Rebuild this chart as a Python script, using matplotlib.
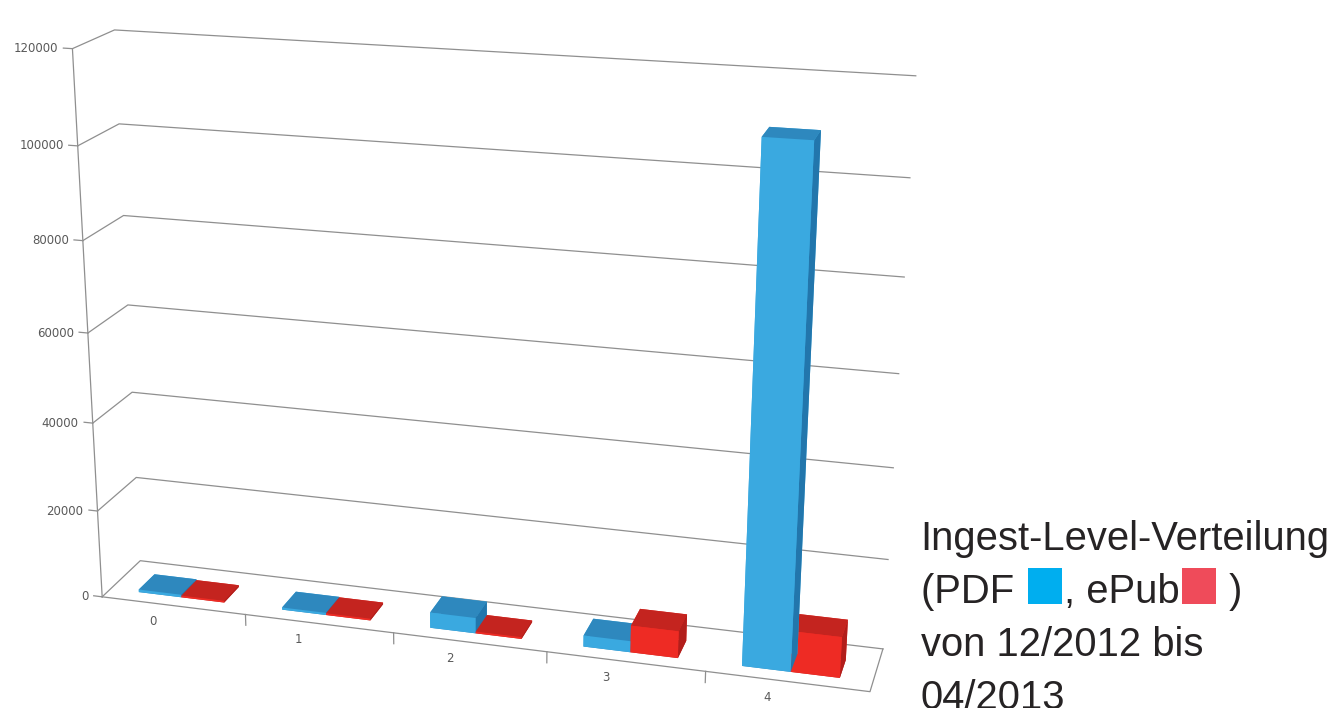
import numpy as np
import matplotlib.pyplot as plt
from matplotlib.patches import Rectangle
from mpl_toolkits.mplot3d import proj3d

categories = ['0', '1', '2', '3', '4']
pdf = [600, 500, 3500, 2500, 110000]
epub = [400, 400, 400, 6000, 9000]
zticks = [0, 20000, 40000, 60000, 80000, 100000, 120000]

grid_c = '#8f8f8f'
lab_c = '#595959'
blue_faces = ['#2E88BE', '#2E88BE', '#3AA9E0', '#3AA9E0', '#3AA9E0', '#2276AC']
red_faces = ['#C4241F', '#C4241F', '#EE2B24', '#EE2B24', '#EE2B24', '#B21E1B']

fig = plt.figure(figsize=(13.36, 7.08), dpi=100)
W, H = fig.get_size_inches() * fig.dpi
side = 900
cx, cy = 471, 343
ax = fig.add_axes([(cx - side / 2) / W, (cy - side / 2) / H, side / W, side / H],
                  projection='3d', computed_zorder=False)
ax.set_proj_type('persp', focal_length=0.5)
ax.view_init(elev=18.5, azim=-74)
ax.set_xlim(-0.5, 4.5)
ax.set_ylim(0, 1)
ax.set_zlim(0, 120000)
ax.set_box_aspect((6.9, 0.85, 5), zoom=1.09)
ax.set_axis_off()

# walls: left and back gridlines
for z in zticks:
    ax.plot([-0.5, -0.5, 4.5], [0, 1, 1], [z, z, z], color=grid_c, lw=0.9, zorder=1)
    ax.plot([-0.56, -0.5], [0, 0], [z, z], color=grid_c, lw=0.9, zorder=1)

# floor outline and vertical axis
ax.plot([-0.5, 4.5, 4.5], [0, 0, 1], [0, 0, 0], color=grid_c, lw=0.9, zorder=1)
ax.plot([-0.5, -0.5], [0, 0], [0, 120000], color=grid_c, lw=0.9, zorder=1)
for i in range(len(categories) - 1):
    ax.plot([i + 0.5, i + 0.5], [0, 0], [0, -2500], color=grid_c, lw=0.9, zorder=1)

# bars
n = len(categories)
xs = np.concatenate([np.arange(n) - 0.3, np.arange(n)])
ys = np.full(2 * n, 0.22)
zs = np.zeros(2 * n)
dz = np.array(pdf + epub, dtype=float)
colors = blue_faces * n + red_faces * n
ax.bar3d(xs, ys, zs, 0.3, 0.42, dz, color=colors, shade=False, zorder=2)

# axis labels placed in 2D at projected positions
fig.canvas.draw()
M = ax.get_proj()


def to_fig(x, y, z):
    px, py, _ = proj3d.proj_transform(x, y, z, M)
    dx, dy = ax.transData.transform((px, py))
    return dx / W, dy / H


for z in zticks:
    fx, fy = to_fig(-0.5, 0, z)
    fig.text(fx - 14 / W, fy, str(z), ha='right', va='center', fontsize=8.5, color=lab_c)
for i, c in enumerate(categories):
    fx, fy = to_fig(i, 0, 0)
    fig.text(fx - 20 / W, fy - 16 / H, c, ha='center', va='center', fontsize=8.5, color=lab_c)

# caption with colour keys
fs = 28.8
fam = 'Liberation Sans'
tc = '#262324'
x0 = 0.689
y1 = 0.223
dy = 0.075
fig.text(x0, y1, 'Ingest-Level-Verteilung', fontsize=fs, family=fam, color=tc)
fig.text(x0, y1 - 2 * dy, 'von 12/2012 bis', fontsize=fs, family=fam, color=tc)
fig.text(x0, y1 - 3 * dy, '04/2013', fontsize=fs, family=fam, color=tc)

r = fig.canvas.get_renderer()
sq_w, sq_h = 34 / W, 36 / H
yb = y1 - dy
pieces = [('(PDF ', None), (None, '#00AEEF'), (', ePub', None), (None, '#EF4B5A'), (' )', None)]
x = x0
for s, col in pieces:
    if s is not None:
        t = fig.text(x, yb, s, fontsize=fs, family=fam, color=tc)
        bb = t.get_window_extent(renderer=r)
        x = bb.x1 / W
    else:
        fig.patches.append(Rectangle((x + 3 / W, yb - 1 / H), sq_w, sq_h, transform=fig.transFigure,
                                     facecolor=col, edgecolor='none'))
        x += sq_w + 5 / W

fig.savefig('out.png', dpi=100)
